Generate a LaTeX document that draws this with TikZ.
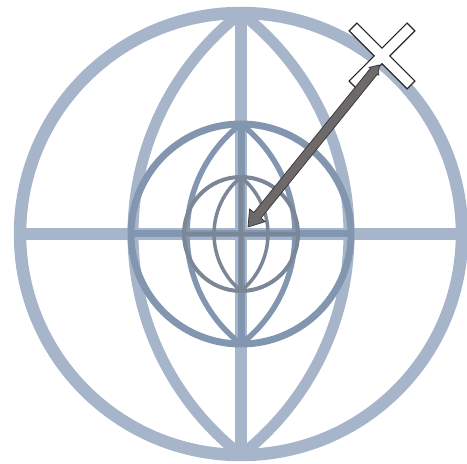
\documentclass[tikz,border=0pt]{standalone}
\usetikzlibrary{calc}

\definecolor{globeouter}{HTML}{A7B5CA}
\definecolor{globemid}{HTML}{8396B0}
\definecolor{globeinner}{HTML}{7B8796}
\definecolor{arrowgray}{HTML}{6E6A6A}
\definecolor{arrowedge}{HTML}{3C3C3C}

\begin{document}
\begin{tikzpicture}[
  x=1pt, y=1pt,
  xmark/.style={fill=white, draw=black!85, line width=1.1pt, line join=miter},
  pointer/.style={fill=arrowgray, draw=arrowedge, line width=0.8pt, line join=miter}
]
\useasboundingbox (0,0) rectangle (467,464);

% Centre, marker and arrow ends
\coordinate (c) at (241,230);
\coordinate (xm) at (382,408);
\coordinate (tip) at ($(c)+(7,7)$);
\coordinate (tail) at ($(xm)+(-3,-9)$);

% Globes: radius / lens half width / widths of circle, lens, cross / colour
\foreach \R/\w/\lc/\ll/\lx/\col in {221/108/12.5/11/12/globeouter, 110/54/7/5.5/7/globemid, 57/27/4/3.5/3.5/globeinner}{
  \pgfmathsetmacro\rr{\R*(\R/(2*\w))+\w/2}
  \pgfmathsetmacro\ang{atan2(\R,\rr-\w)}
  \draw[\col, line width=\lc] (c) circle[radius=\R];
  \draw[\col, line width=\ll] ($(c)+(0,\R)$) arc[start angle=\ang, end angle=-\ang, radius=\rr];
  \draw[\col, line width=\ll] ($(c)+(0,\R)$) arc[start angle=180-\ang, end angle=180+\ang, radius=\rr];
  \draw[\col, line width=\lx] ($(c)+(-\R,0)$) -- ($(c)+(\R,0)$);
  \draw[\col, line width=\lx] ($(c)+(0,-\R)$) -- ($(c)+(0,\R)$);
}

% Marker
\draw[xmark, shift={(xm)}, rotate=45] (5.5,41) -- (5.5,5.5) -- (41,5.5) -- (41,-5.5) -- (5.5,-5.5) -- (5.5,-41)
  -- (-5.5,-41) -- (-5.5,-5.5) -- (-41,-5.5) -- (-41,5.5) -- (-5.5,5.5) -- (-5.5,41) -- cycle;

% Arrow
\draw[pointer] (tip) -- ($(tip)!18pt!33.7:(tail)$) -- ($(tip)!15.66pt!16.7:(tail)$)
  -- ($(tail)!9.18pt!-29.4:(tip)$) -- ($(tail)!10pt!-36.9:(tip)$) -- (tail)
  -- ($(tail)!10pt!36.9:(tip)$) -- ($(tail)!9.18pt!29.4:(tip)$)
  -- ($(tip)!15.66pt!-16.7:(tail)$) -- ($(tip)!18pt!-33.7:(tail)$) -- cycle;

\end{tikzpicture}
\end{document}
